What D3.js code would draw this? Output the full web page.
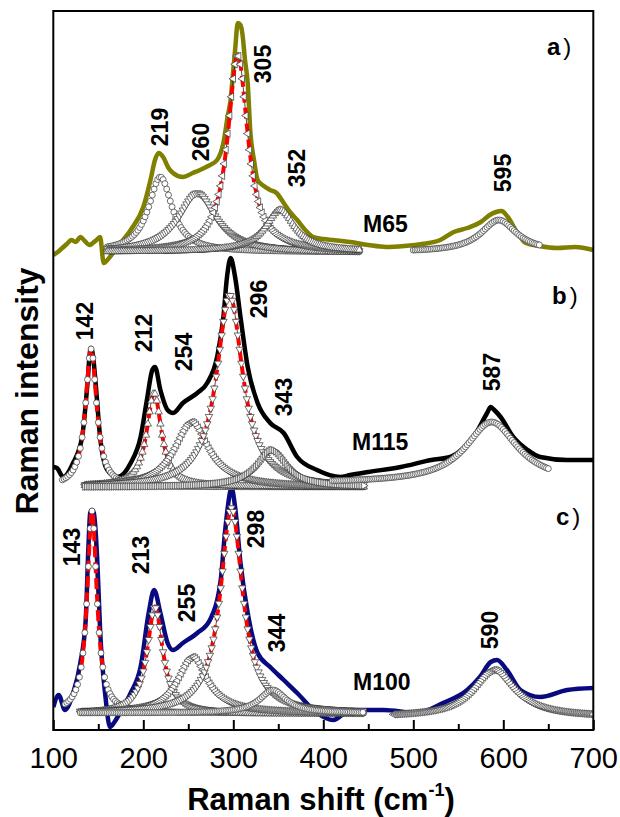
<!DOCTYPE html>
<html>
<head>
<meta charset="utf-8">
<script src="https://cdn.jsdelivr.net/npm/d3@7"></script>
<style>
  html, body { margin: 0; padding: 0; background: #fff; }
  svg { display: block; font-family: Arial, "Liberation Sans", sans-serif; }
</style>
</head>
<body>
<svg id="chart" width="620" height="817"></svg>
<script>
// ---------------- DATA ----------------
// x axis
const xTicks = [100, 200, 300, 400, 500, 600, 700];
const xMinorTicks = [150, 250, 350, 450, 550, 650];

// measured spectra: [Raman shift (cm-1), offset intensity (a.u.)]
const m65 = [[100,475],[105,478],[110,482],[115,486],[120,490],[125,488],[130,493],[135,489],[140,485],[144,487],[148,490],[152,493],[156,467],[162,472],[171,483],[186,500],[200,523],[208,550],[213,570],[217,577],[222,573],[228,562],[233,557],[244,553],[255,557],[263,560],[272,564],[282,570],[289,587],[294,615],[297,630],[300,660],[302,680],[305,707],[308,705],[310,697],[313,670],[316,647],[319,597],[323,570],[327,550],[334,544],[341,540],[348,537],[356,527],[363,518],[371,510],[380,500],[389,493],[400,491],[411,490],[430,488],[450,485],[470,483],[490,484],[510,486],[530,490],[545,498],[560,502],[575,508],[585,515],[592,518],[598,519],[605,513],[615,498],[625,487],[640,484],[660,482],[680,483],[700,480]];
const m115 = [[100,263],[104,262],[111,253],[122,267],[132,293],[138,347],[141,380],[142,382],[144,375],[147,347],[152,293],[160,260],[171,253],[186,267],[197,293],[204,330],[210,360],[213,363],[219,340],[227,320],[233,317],[244,327],[260,337],[271,347],[282,373],[289,413],[293,453],[297,472],[302,453],[308,413],[316,363],[327,327],[341,307],[356,297],[371,273],[393,260],[419,253],[430,255],[450,258],[486,263],[520,270],[541,273],[556,282],[567,293],[582,317],[586,323],[590,320],[597,313],[611,293],[627,280],[641,273],[671,270],[700,270]];
const m100 = [[100,23],[106,35],[113,20],[122,37],[130,67],[136,110],[139,183],[141,217],[143,220],[145,217],[149,167],[152,100],[158,33],[163,3],[168,8],[174,17],[186,37],[197,63],[206,117],[212,140],[219,117],[227,87],[233,80],[244,87],[260,97],[274,110],[286,150],[291,200],[297,240],[298,242],[302,223],[308,167],[316,117],[327,77],[341,63],[356,50],[371,37],[393,17],[411,10],[430,20],[467,20],[504,17],[533,27],[560,40],[574,53],[586,68],[593,70],[604,60],[619,40],[641,33],[671,40],[700,42]];

// fitted Lorentzian components
// panel a) M65
const peaksA   = [219, 260, 305, 352, 595];
const heightsA = [75, 59, 197, 42, 32];
const fwhmA    = [32, 50, 27, 40, 48];
const baseA    = [478, 478, 478, 478, 478];
const fromA    = [160, 160, 160, 160, 500];
const toA      = [440, 440, 440, 440, 640];
const markA    = ["circle", "down", "left", "up", "circle"];
const redA     = [false, false, true, false, false];
// panel b) M115
const peaksB   = [142, 212, 254, 296, 343, 587];
const heightsB = [138, 94, 65, 192, 37, 61];
const fwhmB    = [15, 20, 46, 35, 40, 70];
const baseB    = [243, 243, 243, 243, 243, 247];
const fromB    = [110, 135, 135, 135, 135, 410];
const toB      = [445, 445, 445, 445, 445, 650];
const markB    = ["circle", "up", "left", "down", "right", "circle"];
const redB     = [true, true, false, true, false, false];
// panel c) M100
const peaksC   = [143, 213, 255, 298, 344, 590];
const heightsC = [202, 106, 56, 205, 23, 47];
const fwhmC    = [13, 21, 40, 30, 36, 55];
const baseC    = [17, 17, 17, 17, 17, 13];
const fromC    = [113, 130, 130, 130, 130, 478];
const toC      = [445, 445, 445, 445, 445, 700];
const markC    = ["circle", "down", "left", "down", "circle", "left"];
const redC     = [true, true, false, true, false, false];

const sampleNames = ["M65", "M115", "M100"];
const panelNames = ["a", "b", "c"];

// ---------------- LAYOUT ----------------
const lineColors = ["#7f7f00", "#000000", "#0a0a80"];
// label centres (px) for the rotated peak labels
const labelPosA = [[160,127],[201,142],[263,64],[297,168],[503,173]];
const labelPosB = [[85,321],[144,333],[184,352],[259,299],[284,397],[492,372]];
const labelPosC = [[72,547],[141,555],[187,603],[256,529],[277,633],[490,630]];
const namePos = [[363,232],[352,450],[353,690]];
const panelPos = [[547,55],[552,304],[556,525]];

const svg = d3.select("#chart");
const x = d3.scaleLinear().domain([100, 700]).range([53.3, 593.3]);
const y = d3.scaleLinear().domain([0, 719]).range([730, 11]);

const defs = svg.append("defs");
defs.append("clipPath").attr("id", "clip").append("rect")
  .attr("x", x(100)).attr("y", y(719)).attr("width", x(700) - x(100)).attr("height", y(0) - y(719));

const plot = svg.append("g").attr("clip-path", "url(#clip)");

const line = d3.line().x(d => x(d[0])).y(d => y(d[1])).curve(d3.curveMonotoneX);

// measured spectra
[m65, m115, m100].forEach((s, i) => {
  plot.append("path").datum(s)
    .attr("fill", "none").attr("stroke", lineColors[i])
    .attr("stroke-width", 4.5).attr("stroke-linejoin", "round")
    .attr("d", line);
});

function lorentz(v, c, h, w) { return h / (1 + Math.pow((v - c) / (w / 2), 2)); }

const symType = { circle: d3.symbolCircle, up: d3.symbolTriangle, down: d3.symbolTriangle, left: d3.symbolTriangle, right: d3.symbolTriangle };
const symRot = { circle: 0, up: 0, down: 180, left: -90, right: 90 };

function drawPanel(peaks, heights, fwhm, base, from, to, marks, reds) {
  peaks.forEach((c, k) => {
    const pts = d3.range(from[k], to[k] + 0.001, 1).map(v => [v, base[k] + lorentz(v, c, heights[k], fwhm[k])]);
    const mpts = d3.range(from[k], to[k] + 0.001, 2).map(v => [v, base[k] + lorentz(v, c, heights[k], fwhm[k])]);
    const g = plot.append("g");
    g.append("path").datum(pts).attr("fill", "none").attr("stroke", "#222").attr("stroke-width", 0.8)
      .attr("d", d3.line().x(d => x(d[0])).y(d => y(d[1])));
    if (reds[k]) {
      const rp = pts.filter(p => p[1] - base[k] >= 0.22 * heights[k]);
      g.append("path").datum(rp).attr("fill", "none").attr("stroke", "#ff0000").attr("stroke-width", 4)
        .attr("stroke-dasharray", "11,5")
        .attr("d", d3.line().x(d => x(d[0])).y(d => y(d[1])));
    }
    const sym = d3.symbol().type(symType[marks[k]]).size(marks[k] === "circle" ? 28 : 24);
    g.selectAll("path.m").data(mpts).join("path").attr("class", "m")
      .attr("d", sym)
      .attr("transform", d => `translate(${x(d[0])},${y(d[1])}) rotate(${symRot[marks[k]]})`)
      .attr("fill", "#fff").attr("stroke", "#333").attr("stroke-width", 0.7);
  });
}
drawPanel(peaksA, heightsA, fwhmA, baseA, fromA, toA, markA, redA);
drawPanel(peaksB, heightsB, fwhmB, baseB, fromB, toB, markB, redB);
drawPanel(peaksC, heightsC, fwhmC, baseC, fromC, toC, markC, redC);

// peak labels
[[peaksA, labelPosA], [peaksB, labelPosB], [peaksC, labelPosC]].forEach(([pk, pos]) => {
  pk.forEach((p, k) => {
    svg.append("text")
      .attr("transform", `translate(${pos[k][0]},${pos[k][1]}) rotate(-90)`)
      .attr("text-anchor", "middle").attr("dominant-baseline", "central")
      .attr("font-size", 23).attr("font-weight", "bold").attr("fill", "#000")
      .text(p);
  });
});

// sample names
sampleNames.forEach((n, i) => {
  svg.append("text").attr("x", namePos[i][0]).attr("y", namePos[i][1])
    .attr("font-size", 23).attr("font-weight", "bold").text(n);
});
// panel letters
panelNames.forEach((n, i) => {
  const t = svg.append("text").attr("x", panelPos[i][0]).attr("y", panelPos[i][1]).attr("font-size", 24);
  t.append("tspan").attr("font-weight", "bold").text(n);
  t.append("tspan").attr("dx", 3).text(")");
});

// frame
svg.append("rect").attr("x", x(100)).attr("y", y(719))
  .attr("width", x(700) - x(100)).attr("height", y(0) - y(719))
  .attr("fill", "none").attr("stroke", "#000").attr("stroke-width", 2);

// x axis (ticks inward)
const axis = svg.append("g").attr("transform", `translate(0,${y(0)})`)
  .call(d3.axisBottom(x).tickValues(xTicks).tickSize(-10).tickPadding(17).tickFormat(d3.format("d")));
axis.select(".domain").remove();
axis.selectAll(".tick line").attr("stroke", "#000").attr("stroke-width", 2);
axis.selectAll(".tick text").attr("font-size", 29).attr("font-family", "Arial, 'Liberation Sans', sans-serif").attr("fill", "#000");
const minor = svg.append("g").attr("transform", `translate(0,${y(0)})`)
  .call(d3.axisBottom(x).tickValues(xMinorTicks).tickSize(-6).tickFormat(""));
minor.select(".domain").remove();
minor.selectAll(".tick line").attr("stroke", "#000").attr("stroke-width", 2);

// axis titles
const xt = svg.append("text").attr("x", 321).attr("y", 810).attr("text-anchor", "middle")
  .attr("font-size", 31).attr("font-weight", "bold");
xt.append("tspan").text("Raman shift (cm");
xt.append("tspan").attr("font-size", 18).attr("dy", -14).text("-1");
xt.append("tspan").attr("dy", 14).text(")");

svg.append("text").attr("transform", "translate(38,391) rotate(-90)")
  .attr("text-anchor", "middle").attr("font-size", 32).attr("font-weight", "bold")
  .text("Raman intensity");
</script>
</body>
</html>
